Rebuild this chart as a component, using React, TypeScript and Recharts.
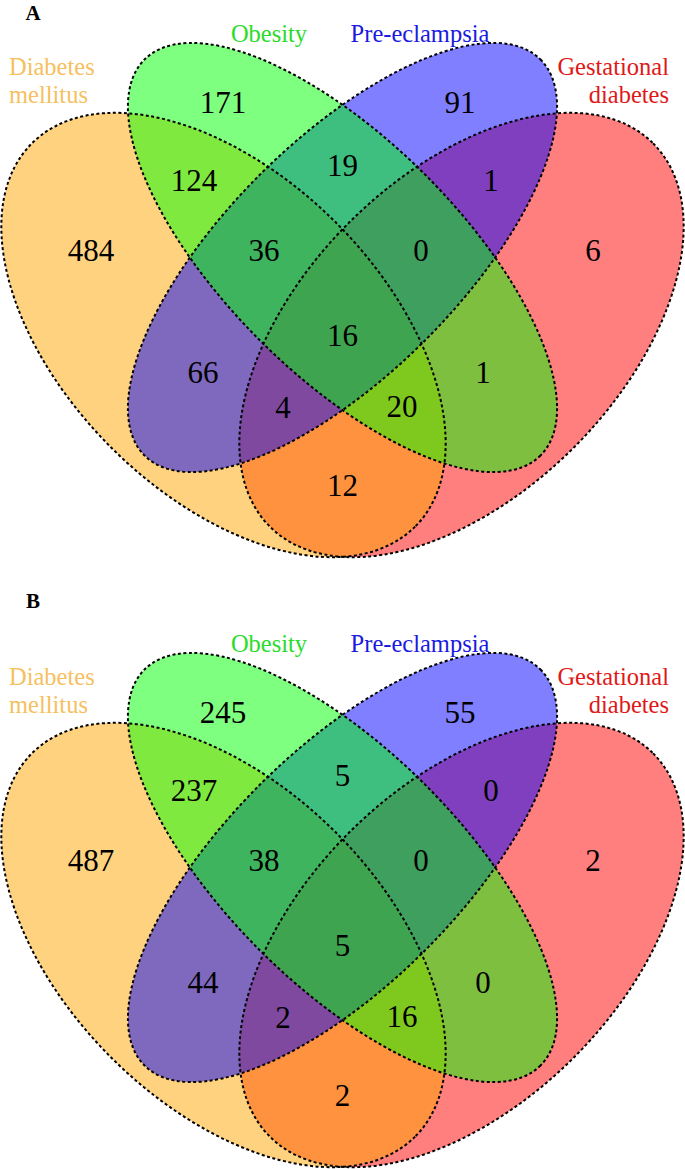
import React from "react";
import { ScatterChart, Scatter, XAxis, YAxis } from "recharts";

// four sets, in legend order
const setNames = ["Diabetes mellitus", "Obesity", "Pre-eclampsia", "Gestational diabetes"];
const setFills = ["#FFA500", "#00FF00", "#0000FF", "#FF0000"];
const setLabelColors = ["#F6BF60", "#2ADC2A", "#1A1AE0", "#E01818"];

// the 15 regions of the diagram (sets they belong to)
const regionNames = [
  "DM", "Ob", "PE", "GD",
  "DM&Ob", "Ob&PE", "PE&GD",
  "DM&Ob&PE", "Ob&PE&GD", "DM&Ob&PE&GD",
  "DM&PE", "Ob&GD", "DM&PE&GD", "DM&Ob&GD", "DM&GD",
];
const countsA = [484, 171, 91, 6, 124, 19, 1, 36, 0, 16, 66, 1, 4, 20, 12];
const countsB = [487, 245, 55, 2, 237, 5, 0, 38, 0, 5, 44, 0, 2, 16, 2];

// ---- layout (diagram units, 1 unit = 1px of a 685 wide panel) ----
const W = 685;
const AXIS = 342.5;

// where each region's count sits, same order as regionNames
const regionPos = [
  [91, 250], [223, 102], [460, 102], [593, 250],
  [194, 180], [342.5, 165], [491, 180],
  [264, 250], [421, 250], [342.5, 335],
  [203, 372], [483, 372], [283, 407], [402, 406], [342.5, 485],
];

// ellipse per set: centre, semi-axes, rotation (deg)
const ellipseGeom = [
  { cx: 223.5, cy: 335, rx: 271, ry: 159, rot: 45 },
  { cx: AXIS, cy: 257.5, rx: 280, ry: 117, rot: 45 },
  { cx: AXIS, cy: 257.5, rx: 280, ry: 117, rot: -45 },
  { cx: 2 * AXIS - 223.5, cy: 335, rx: 271, ry: 159, rot: -45 },
];
// fills are painted red, orange, blue, green
const paintOrder = [3, 0, 2, 1];

const setLabelPos = [
  { x: 9, y: 66, anchor: "start" },
  { x: 269, y: 33, anchor: "middle" },
  { x: 420, y: 33, anchor: "middle" },
  { x: 669, y: 66, anchor: "end" },
];
const LINE_H = 28;

const FONT = "'Liberation Serif', 'Times New Roman', serif";

const renderFill = (p: any) => {
  const e = p.payload;
  return (
    <ellipse
      cx={p.cx}
      cy={p.cy}
      rx={e.rx}
      ry={e.ry}
      transform={`rotate(${e.rot} ${p.cx} ${p.cy})`}
      fill={e.fill}
      fillOpacity={0.5}
      stroke="none"
    />
  );
};

const renderOutline = (p: any) => {
  const e = p.payload;
  return (
    <ellipse
      cx={p.cx}
      cy={p.cy}
      rx={e.rx}
      ry={e.ry}
      transform={`rotate(${e.rot} ${p.cx} ${p.cy})`}
      fill="none"
      stroke="#000"
      strokeWidth={2}
      strokeDasharray="3 2.5"
    />
  );
};

const renderCount = (p: any) => (
  <text
    x={p.cx}
    y={p.cy}
    textAnchor="middle"
    dominantBaseline="central"
    fontFamily={FONT}
    fontSize={31}
    fill="#000"
  >
    {p.payload.value}
  </text>
);

const renderSetLabel = (p: any) => (
  <text
    x={p.cx}
    y={p.cy}
    textAnchor={p.payload.anchor}
    dominantBaseline="central"
    fontFamily={FONT}
    fontSize={24.5}
    fill={p.payload.color}
  >
    {p.payload.text}
  </text>
);

const renderLetter = (p: any) => (
  <text
    x={p.cx}
    y={p.cy}
    textAnchor="middle"
    dominantBaseline="central"
    fontFamily={FONT}
    fontSize={21}
    fontWeight="bold"
    fill="#000"
  >
    {p.payload.text}
  </text>
);

function VennPanel({
  letter,
  counts,
  height,
  shift,
  letterY,
}: {
  letter: string;
  counts: number[];
  height: number;
  shift: number;
  letterY: number;
}) {
  const ellipses = paintOrder.map((i) => ({
    x: ellipseGeom[i].cx,
    y: ellipseGeom[i].cy + shift,
    rx: ellipseGeom[i].rx,
    ry: ellipseGeom[i].ry,
    rot: ellipseGeom[i].rot,
    fill: setFills[i],
  }));

  const countPoints = counts.map((v, i) => ({
    name: regionNames[i],
    value: v,
    x: regionPos[i][0],
    y: regionPos[i][1] + shift,
  }));

  // names at the sides are broken onto two lines
  const labelPoints: any[] = [];
  setNames.forEach((name, i) => {
    const pos = setLabelPos[i];
    const lines = pos.anchor === "middle" ? [name] : name.split(" ");
    lines.forEach((t, j) =>
      labelPoints.push({
        text: t,
        x: pos.x,
        y: pos.y + j * LINE_H + shift,
        anchor: pos.anchor,
        color: setLabelColors[i],
      })
    );
  });

  return (
    <ScatterChart
      width={W}
      height={height}
      margin={{ top: 0, right: 0, bottom: 0, left: 0 }}
    >
      <XAxis type="number" dataKey="x" domain={[0, W]} allowDataOverflow hide />
      <YAxis
        type="number"
        dataKey="y"
        domain={[0, height]}
        allowDataOverflow
        reversed
        hide
      />
      <Scatter data={ellipses} shape={renderFill} isAnimationActive={false} />
      <Scatter data={ellipses} shape={renderOutline} isAnimationActive={false} />
      <Scatter data={countPoints} shape={renderCount} isAnimationActive={false} />
      <Scatter data={labelPoints} shape={renderSetLabel} isAnimationActive={false} />
      <Scatter
        data={[{ text: letter, x: 33, y: letterY }]}
        shape={renderLetter}
        isAnimationActive={false}
      />
    </ScatterChart>
  );
}

export default function App() {
  return (
    <div
      style={{
        position: "absolute",
        left: 0,
        top: 0,
        width: W,
        height: 1169,
        background: "#fff",
      }}
    >
      <VennPanel letter="A" counts={countsA} height={580} shift={0} letterY={13} />
      <VennPanel letter="B" counts={countsB} height={589} shift={30} letterY={21} />
    </div>
  );
}
